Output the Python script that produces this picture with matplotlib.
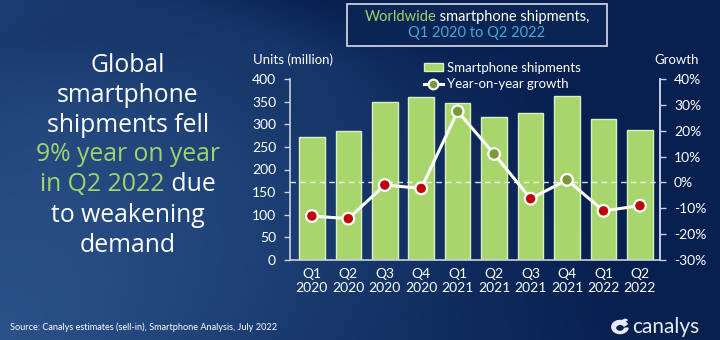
import numpy as np
import matplotlib
matplotlib.use("Agg")
import matplotlib.pyplot as plt
from matplotlib.patches import Rectangle, Patch
from matplotlib.lines import Line2D

# ---- data ----
quarters = ["Q1\n2020", "Q2\n2020", "Q3\n2020", "Q4\n2020", "Q1\n2021",
            "Q2\n2021", "Q3\n2021", "Q4\n2021", "Q1\n2022", "Q2\n2022"]
shipments = [272.6, 285.0, 348.9, 359.6, 347.0, 316.0, 325.5, 362.4, 311.2, 287.0]
growth = [-0.13, -0.14, -0.01, -0.023, 0.275, 0.11, -0.063, 0.01, -0.11, -0.09]
left_ticks = [0, 50, 100, 150, 200, 250, 300, 350, 400]
right_ticks = [-0.3, -0.2, -0.1, 0.0, 0.1, 0.2, 0.3, 0.4]
right_labels = ["-30%", "-20%", "-10%", "0%", "10%", "20%", "30%", "40%"]

plt.rcParams['font.family'] = ['Lato', 'DejaVu Sans']

W, H = 720, 340
fig = plt.figure(figsize=(7.2, 3.4), dpi=100)

# ---- background gradient ----
bg = fig.add_axes([0, 0, 1, 1])
bg.set_axis_off()
yy, xx = np.mgrid[0:H, 0:W].astype(float)
dark = np.array([7, 32, 80]) / 255.0
light = np.array([44, 84, 140]) / 255.0
w = np.clip(1.0 - np.hypot(xx / 620.0, (H - yy) / 420.0), 0, 1) * 0.9
w += np.clip(1.0 - np.hypot((xx - 80) / 500.0, (yy - 120) / 260.0), 0, 1) * 0.35
r = np.hypot(xx - 80, yy - 430)
band = np.exp(-((r - 440) / 35.0) ** 2) * np.clip(1 - xx / 420.0, 0, 1)
w += band * 0.35
top = np.clip(1 - yy / 60.0, 0, 1) * 0.15
w = np.clip(w - top, 0, 1)
img = dark[None, None, :] + (light - dark)[None, None, :] * w[:, :, None]
bg.imshow(img, extent=[0, W, H, 0], aspect='auto', zorder=0)
bg.set_xlim(0, W)
bg.set_ylim(H, 0)

# ---- main axes ----
ax = fig.add_axes([290 / W, 1 - 260 / H, 370 / W, 181 / H])
ax.patch.set_alpha(0)
x = np.arange(len(quarters))
ax.bar(x, shipments, width=0.7, color='#a9d66c', edgecolor='#dcefc6', linewidth=1.0, zorder=2)
ax.set_xlim(-0.6, 9.55)
ax.set_ylim(0, 400)
ax.set_yticks(left_ticks)
ax.set_yticklabels([str(t) for t in left_ticks])
ax.set_xticks(x)
ax.set_xticklabels(quarters)
spc = '#c8d0de'
ax.spines['top'].set_visible(False)
for s in ['left', 'bottom', 'right']:
    ax.spines[s].set_color(spc)
    ax.spines[s].set_linewidth(1.2)
ax.tick_params(axis='y', colors=spc, labelcolor='white', labelsize=10, length=4, width=1.0, pad=6)
ax.tick_params(axis='x', length=0, labelcolor='white', labelsize=10, pad=6)

ax2 = ax.twinx()
ax2.set_ylim(-0.30, 0.40)
ax2.set_yticks(right_ticks)
ax2.set_yticklabels(right_labels)
for s in ['top', 'left', 'bottom']:
    ax2.spines[s].set_visible(False)
ax2.spines['right'].set_color(spc)
ax2.spines['right'].set_linewidth(1.2)
ax2.tick_params(axis='y', colors=spc, labelcolor='white', labelsize=10, length=4, width=1.0, pad=6)
ax2.axhline(0, color='white', linestyle=(0, (4, 3)), linewidth=1.0, alpha=0.85, zorder=1)
ax2.plot(x, growth, color='white', linewidth=2.2, zorder=3)
mcols = ['#7a9a3a' if g > 0 else '#c00000' for g in growth]
ax2.scatter(x, growth, s=70, c=mcols, edgecolors='white', linewidths=1.6, zorder=4)

# axis titles
fig.text(293 / W, 1 - 60 / H, "Units (million)", color='white', fontsize=9.5, ha='center', va='center')
fig.text(677 / W, 1 - 60 / H, "Growth", color='white', fontsize=9.5, ha='center', va='center')

# legend
handles = [Patch(facecolor='#a9d66c', edgecolor='#dcefc6'),
           Line2D([0], [0], color='white', linewidth=2.2, marker='o', markersize=7,
                  markerfacecolor='#7a9a3a', markeredgecolor='white', markeredgewidth=1.5)]
fig.legend(handles, ["Smartphone shipments", "Year-on-year growth"], loc='upper left',
           bbox_to_anchor=(417 / W, 1 - 55 / H), frameon=False, labelcolor='white',
           fontsize=9.5, handlelength=1.5, handleheight=0.6, handletextpad=0.25,
           labelspacing=0.35, borderpad=0)

# title box
box = Rectangle((347 / W, 1 - 46 / H), 260 / W, 42 / H, transform=fig.transFigure,
                facecolor='#0a2454', edgecolor='#c8d0de', linewidth=1.3, zorder=5)
fig.patches.append(box)

renderer = fig.canvas.get_renderer()

def multicolor(parts, cx, cy, fontsize, family=None):
    texts = []
    for s, c in parts:
        kw = {}
        if family:
            kw['family'] = family
        t = fig.text(0, cy, s, color=c, fontsize=fontsize, ha='left', va='center', zorder=6, **kw)
        texts.append(t)
    widths = [t.get_window_extent(renderer).width for t in texts]
    total = sum(widths)
    x0 = cx * W - total / 2
    for t, wd in zip(texts, widths):
        t.set_x(x0 / W)
        x0 += wd

green = '#9fd46c'
multicolor([("Worldwide", green), (" smartphone shipments,", 'white')], 477 / W, 1 - 17 / H, 10.5)
multicolor([("Q1 2020 to Q2 2022", '#45a6da')], 477 / W, 1 - 33 / H, 10.5)

# left headline
lines = [
    [("Global", 'white')],
    [("smartphone", 'white')],
    [("shipments fell", 'white')],
    [("9% year on year", green)],
    [("in Q2 2022", green), (" due", 'white')],
    [("to weakening", 'white')],
    [("demand", 'white')],
]
y0 = 65
for i, ln in enumerate(lines):
    multicolor(ln, 128 / W, 1 - (y0 + 30 * i) / H, 17.8, family=['Open Sans', 'DejaVu Sans'])

# source
fig.text(10 / W, 1 - 327 / H, "Source: Canalys estimates (sell-in), Smartphone Analysis, July 2022",
         color='white', fontsize=6.6, ha='left', va='center')

# canalys logo
fig.text(632 / W, 1 - 327 / H, "canalys", color='#e6ebf3', fontsize=15, ha='left', va='center')
logo = fig.add_axes([611 / W, 1 - 336 / H, 18 / W, 18 / H])
logo.set_axis_off()
logo.patch.set_alpha(0)
th = np.linspace(0.15 * np.pi, 1.95 * np.pi, 60)
logo.fill(np.concatenate([np.cos(th), 0.55 * np.cos(th[::-1])]),
          np.concatenate([0.8 * np.sin(th), 0.45 * np.sin(th[::-1]) - 0.1]), color='#e6ebf3')
logo.fill([-0.9, 0.6, 0.9, -0.6], [0.2, 0.95, 0.85, 0.1], color='#e6ebf3')
logo.set_xlim(-1.1, 1.1)
logo.set_ylim(-1.1, 1.1)

fig.savefig("out.png", dpi=100)
